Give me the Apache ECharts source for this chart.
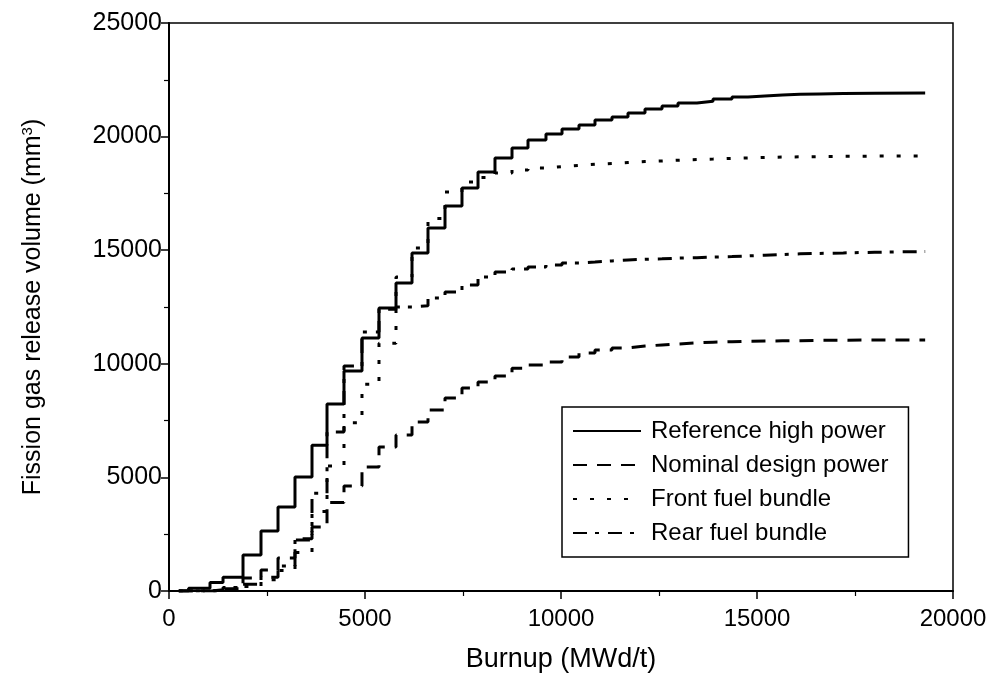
<!DOCTYPE html>
<html>
<head>
<meta charset="utf-8">
<script src="https://cdn.jsdelivr.net/npm/echarts@6/dist/echarts.min.js"></script>
<style>html,body{margin:0;padding:0;background:#fff;}#c{width:995px;height:681px;}</style>
</head>
<body>
<div id="c"></div>
<script>
// Burnup (MWd/t) at which each step starts
const burnup = [250, 500, 1046, 1378, 1888, 2347, 2781, 3214, 3648, 4031, 4464, 4923, 5357, 5791, 6199, 6607, 7041, 7474, 7883, 8316, 8750, 9158, 9617, 10026, 10459, 10867, 11301, 11709, 12143, 12577, 12985, 13469, 13878, 14362, 14770, 15200, 15650, 16100, 16600, 17200, 18000, 19290];
const referenceHigh = [0, 120, 370, 610, 1580, 2640, 3700, 5020, 6420, 8230, 9680, 11140, 12460, 13560, 14880, 15980, 16950, 17740, 18440, 19060, 19500, 19850, 20110, 20330, 20510, 20730, 20860, 21040, 21210, 21350, 21480, 21560, 21650, 21740, 21790, 21830, 21860, 21880, 21900, 21910, 21920, 21920];
const nominalDesign = [0, 0, 0, 100, 570, 920, 1450, 2240, 2820, 3900, 4620, 5460, 6340, 6870, 7440, 7970, 8490, 8930, 9200, 9460, 9800, 9950, 10080, 10300, 10480, 10610, 10700, 10780, 10830, 10870, 10920, 10950, 10970, 10990, 11000, 11010, 11020, 11030, 11040, 11045, 11050, 11050];
const frontBundle = [0, 0, 50, 100, 200, 500, 900, 1700, 3500, 5500, 7400, 9100, 10900, 13820, 15100, 16400, 17560, 18000, 18200, 18400, 18530, 18620, 18680, 18730, 18780, 18820, 18860, 18900, 18930, 18960, 18990, 19010, 19040, 19060, 19080, 19100, 19110, 19120, 19130, 19140, 19150, 19150];
const rearBundle = [0, 0, 50, 150, 300, 600, 1100, 2300, 4300, 7000, 9900, 11400, 12400, 12500, 12550, 12900, 13160, 13470, 13820, 14040, 14170, 14260, 14350, 14440, 14480, 14530, 14570, 14600, 14620, 14650, 14670, 14700, 14720, 14750, 14780, 14810, 14840, 14860, 14880, 14910, 14940, 14950];
const seriesNames = ['Reference high power', 'Nominal design power', 'Front fuel bundle', 'Rear fuel bundle'];

function pairs(ys) { return burnup.map((x, i) => [x, ys[i]]); }

const font = 'Liberation Sans, Arial, Helvetica, sans-serif';
const chart = echarts.init(document.getElementById('c'), null, {renderer: 'canvas'});
const lineBase = {type: 'line', step: 'end', symbol: 'none', showSymbol: false, animation: false};
chart.setOption({
  backgroundColor: '#fff',
  animation: false,
  grid: {left: 169, right: 42, top: 23, bottom: 90, show: true, borderColor: '#000', borderWidth: 1.5, backgroundColor: 'transparent'},
  xAxis: {
    type: 'value', min: 0, max: 20000, interval: 5000,
    name: 'Burnup (MWd/t)', nameLocation: 'middle', nameGap: 55,
    nameTextStyle: {fontFamily: font, fontSize: 27, color: '#000'},
    axisLine: {lineStyle: {color: '#000', width: 2}},
    axisTick: {length: 8, lineStyle: {color: '#000', width: 1.5}},
    minorTick: {show: true, splitNumber: 2, length: 5, lineStyle: {color: '#000', width: 1.2}},
    axisLabel: {fontFamily: font, fontSize: 24, color: '#000', margin: 16, formatter: v => String(v)},
    splitLine: {show: false}
  },
  yAxis: {
    type: 'value', min: 0, max: 25000, interval: 5000,
    name: 'Fission gas release volume (mm{sup|3})', nameLocation: 'middle', nameGap: 122,
    nameTextStyle: {fontFamily: font, fontSize: 25, color: '#000', rich: {sup: {fontFamily: font, fontSize: 15, color: '#000', verticalAlign: 'top', padding: [0, 0, 12, 0]}}},
    axisLine: {lineStyle: {color: '#000', width: 2}},
    axisTick: {length: 8, lineStyle: {color: '#000', width: 1.5}},
    minorTick: {show: true, splitNumber: 2, length: 5, lineStyle: {color: '#000', width: 1.2}},
    axisLabel: {fontFamily: font, fontSize: 25, color: '#000', margin: 7, formatter: v => String(v)},
    splitLine: {show: false}
  },
  legend: {
    orient: 'vertical', left: 562, top: 407, width: 356,
    padding: [12, 20, 12, 10],
    itemWidth: 68, itemHeight: 20, itemGap: 10,
    itemStyle: {opacity: 0},
    backgroundColor: '#fff', borderColor: '#000', borderWidth: 1.5,
    textStyle: {fontFamily: font, fontSize: 24, color: '#000', lineHeight: 24, padding: [0, 0, 0, 5]},
    data: seriesNames
  },
  series: [
    Object.assign({}, lineBase, {name: seriesNames[0], data: pairs(referenceHigh), lineStyle: {color: '#000', width: 3, type: 'solid'}, itemStyle: {color: '#000'}, z: 4}),
    Object.assign({}, lineBase, {name: seriesNames[1], data: pairs(nominalDesign), lineStyle: {color: '#000', width: 3, type: [14, 10]}, itemStyle: {color: '#000'}}),
    Object.assign({}, lineBase, {name: seriesNames[2], data: pairs(frontBundle), lineStyle: {color: '#000', width: 3, type: [4, 13]}, itemStyle: {color: '#000'}}),
    Object.assign({}, lineBase, {name: seriesNames[3], data: pairs(rearBundle), lineStyle: {color: '#000', width: 3, type: [14, 8, 4, 9]}, itemStyle: {color: '#000'}})
  ]
});
</script>
</body>
</html>
